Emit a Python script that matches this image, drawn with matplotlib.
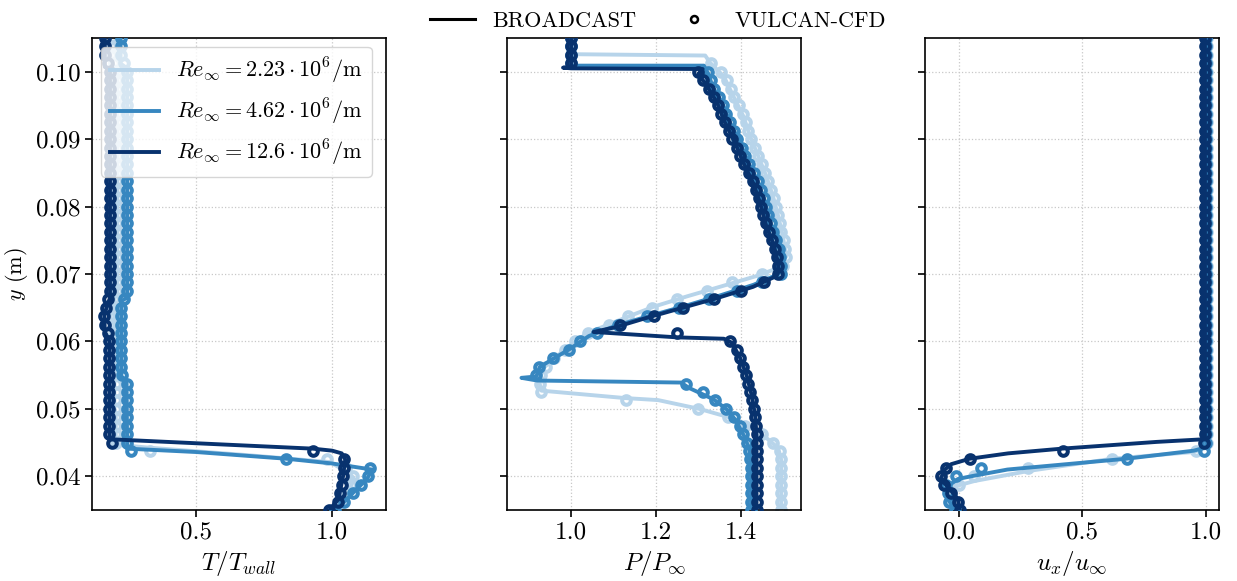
import numpy as np
import matplotlib
matplotlib.use("Agg")
import matplotlib.pyplot as plt
from matplotlib.lines import Line2D

plt.rcParams['font.family'] = 'serif'
plt.rcParams['font.serif'] = ['cmr10']
plt.rcParams['mathtext.fontset'] = 'cm'
plt.rcParams['axes.formatter.use_mathtext'] = True
plt.rcParams['font.size'] = 18

re_labels = [r"$Re_\infty = 2.23 \cdot 10^6/\mathrm{m}$",
             r"$Re_\infty = 4.62 \cdot 10^6/\mathrm{m}$",
             r"$Re_\infty = 12.6 \cdot 10^6/\mathrm{m}$"]
colors = ['#b7d4ea', '#3787c0', '#08326e']

# VULCAN-CFD sample heights (m)
y_cfd = [0.035, 0.03625, 0.0375, 0.03875, 0.040, 0.04125, 0.0425, 0.04375, 0.045, 0.04625,
         0.0475, 0.04875, 0.050, 0.05125, 0.0525, 0.05375, 0.055, 0.05625, 0.0575, 0.05875,
         0.060, 0.06125, 0.0625, 0.06375, 0.065, 0.06625, 0.0675, 0.06875, 0.070, 0.07125,
         0.0725, 0.07375, 0.075, 0.07625, 0.0775, 0.07875, 0.080, 0.08125, 0.0825, 0.08375,
         0.085, 0.08625, 0.0875, 0.08875, 0.090, 0.09125, 0.0925, 0.09375, 0.095, 0.09625,
         0.0975, 0.09875, 0.100, 0.10125, 0.1025, 0.10375, 0.105]

# ---- T / T_wall ----
T_cfd_low = [1.0, 1.03, 1.05, 1.07, 1.078, 1.05, 0.98, 0.33, 0.205, 0.205,
             0.205, 0.205, 0.205, 0.205, 0.205, 0.205, 0.2, 0.2, 0.2, 0.2,
             0.2, 0.2, 0.2, 0.2, 0.2, 0.2, 0.21, 0.21, 0.21, 0.21,
             0.21, 0.21, 0.21, 0.21, 0.21, 0.21, 0.21, 0.21, 0.21, 0.21,
             0.21, 0.21, 0.21, 0.21, 0.21, 0.21, 0.21, 0.21, 0.21, 0.21,
             0.21, 0.21, 0.21, 0.2, 0.186, 0.186, 0.186]
T_cfd_mid = [1.01, 1.045, 1.075, 1.105, 1.13, 1.14, 0.83, 0.26, 0.247, 0.247,
             0.247, 0.247, 0.247, 0.246, 0.245, 0.245, 0.228, 0.226, 0.226, 0.226,
             0.226, 0.226, 0.226, 0.226, 0.226, 0.235, 0.247, 0.247, 0.247, 0.247,
             0.247, 0.247, 0.247, 0.247, 0.247, 0.247, 0.247, 0.247, 0.247, 0.247,
             0.247, 0.247, 0.247, 0.247, 0.247, 0.247, 0.247, 0.247, 0.247, 0.247,
             0.247, 0.247, 0.247, 0.235, 0.223, 0.223, 0.223]
T_cfd_high = [0.99, 1.02, 1.03, 1.035, 1.04, 1.045, 1.045, 0.93, 0.19, 0.182,
              0.182, 0.182, 0.182, 0.182, 0.182, 0.182, 0.182, 0.182, 0.182, 0.182,
              0.182, 0.175, 0.165, 0.163, 0.168, 0.178, 0.184, 0.184, 0.184, 0.184,
              0.184, 0.184, 0.184, 0.184, 0.184, 0.184, 0.184, 0.184, 0.184, 0.184,
              0.184, 0.184, 0.184, 0.184, 0.184, 0.184, 0.184, 0.184, 0.184, 0.184,
              0.184, 0.184, 0.184, 0.175, 0.165, 0.165, 0.165]

T_line_low_x = [0.186, 0.186, 0.21, 0.21, 0.2, 0.2, 0.205, 0.205, 0.325, 0.7, 0.993, 1.06, 1.078, 1.07, 1.04, 1.0]
T_line_low_y = [0.105, 0.1012, 0.1005, 0.067, 0.0665, 0.05, 0.0495, 0.0447, 0.04425, 0.0431, 0.0421, 0.0405, 0.0398, 0.0386, 0.0366, 0.035]
T_line_mid_x = [0.223, 0.223, 0.247, 0.247, 0.226, 0.226, 0.245, 0.247, 0.5, 0.833, 1.0, 1.146, 1.128, 1.09, 1.054, 1.01]
T_line_mid_y = [0.105, 0.1012, 0.1005, 0.0665, 0.066, 0.0548, 0.0542, 0.0441, 0.0436, 0.0426, 0.0419, 0.0410, 0.0396, 0.0381, 0.0366, 0.035]
T_line_high_x = [0.165, 0.165, 0.184, 0.184, 0.163, 0.165, 0.182, 0.182, 0.5, 0.929, 1.0, 1.035, 1.048, 1.04, 1.023, 0.99]
T_line_high_y = [0.105, 0.1007, 0.1003, 0.0665, 0.064, 0.0615, 0.060, 0.0455, 0.0449, 0.0441, 0.0438, 0.0434, 0.0425, 0.040, 0.0366, 0.035]

# ---- P / P_inf ----
P_cfd_low = [1.495, 1.495, 1.495, 1.495, 1.495, 1.495, 1.495, 1.492, 1.475, 1.45,
             1.41, 1.37, 1.30, 1.13, 0.93, 0.926, 0.928, 0.94, 0.96, 0.985,
             1.01, 1.04, 1.09, 1.135, 1.19, 1.25, 1.32, 1.38, 1.45, 1.50,
             1.507, 1.504, 1.501, 1.495, 1.493, 1.488, 1.482, 1.478, 1.471, 1.465,
             1.457, 1.449, 1.441, 1.433, 1.424, 1.417, 1.412, 1.405, 1.396, 1.385,
             1.377, 1.367, 1.353, 1.33, 1.0, 1.0, 1.0]
P_cfd_mid = [1.424, 1.424, 1.424, 1.424, 1.424, 1.424, 1.422, 1.420, 1.414, 1.406,
             1.397, 1.385, 1.366, 1.34, 1.31, 1.27, 0.918, 0.925, 0.958, 0.995,
             1.02, 1.06, 1.11, 1.18, 1.255, 1.325, 1.39, 1.45, 1.494, 1.495,
             1.492, 1.489, 1.483, 1.476, 1.47, 1.465, 1.46, 1.454, 1.448, 1.441,
             1.43, 1.42, 1.411, 1.403, 1.392, 1.384, 1.375, 1.366, 1.358, 1.348,
             1.336, 1.33, 1.322, 1.0, 1.0, 1.0, 1.0]
P_cfd_high = [1.437, 1.437, 1.437, 1.437, 1.437, 1.437, 1.437, 1.437, 1.437, 1.437,
              1.436, 1.434, 1.431, 1.427, 1.422, 1.417, 1.413, 1.406, 1.399, 1.39,
              1.375, 1.25, 1.115, 1.195, 1.263, 1.337, 1.40, 1.455, 1.488, 1.488,
              1.485, 1.481, 1.474, 1.466, 1.459, 1.453, 1.448, 1.442, 1.436, 1.429,
              1.419, 1.408, 1.399, 1.391, 1.379, 1.371, 1.363, 1.354, 1.346, 1.337,
              1.325, 1.31, 1.30, 1.0, 1.0, 1.0, 1.0]

P_line_low_x = [1.0, 1.0, 1.316, 1.328, 1.36, 1.383, 1.406, 1.422, 1.441, 1.46, 1.476, 1.488, 1.499, 1.507,
                1.488, 1.437, 1.356, 1.274, 1.197, 1.135, 1.08, 1.04, 0.995, 0.957, 0.93, 0.926, 0.93,
                1.127, 1.205, 1.302, 1.375, 1.422, 1.46, 1.488, 1.495, 1.495]
P_line_low_y = [0.105, 0.1026, 0.1024, 0.1013, 0.0993, 0.0963, 0.0934, 0.0904, 0.0875, 0.0845, 0.0815, 0.0786, 0.0756, 0.0726,
                0.0709, 0.0697, 0.0682, 0.0667, 0.0652, 0.0637, 0.0623, 0.0613, 0.0593, 0.0573, 0.0558, 0.0537, 0.0527,
                0.0516, 0.0513, 0.05, 0.0487, 0.0472, 0.0457, 0.0442, 0.0425, 0.035]
P_line_mid_x = [1.0, 1.0, 0.995, 1.313, 1.325, 1.333, 1.356, 1.375, 1.398, 1.418, 1.441, 1.457, 1.472, 1.488, 1.497,
                1.494, 1.486, 1.43, 1.35, 1.265, 1.18, 1.104, 1.042, 0.995, 0.957, 0.926, 0.918, 0.883, 0.92,
                1.259, 1.278, 1.336, 1.367, 1.387, 1.41, 1.42, 1.424, 1.424]
P_line_mid_y = [0.105, 0.1012, 0.1009, 0.1009, 0.0995, 0.0978, 0.0954, 0.0924, 0.0895, 0.0865, 0.0835, 0.0806, 0.0771, 0.0746, 0.0717,
                0.0703, 0.0699, 0.0684, 0.0668, 0.0652, 0.0637, 0.0623, 0.0608, 0.0588, 0.0574, 0.0562, 0.0548, 0.0546, 0.0542,
                0.0539, 0.0531, 0.0514, 0.0499, 0.0484, 0.0457, 0.044, 0.040, 0.035]
P_line_high_x = [1.0, 1.0, 0.981, 1.0, 1.31, 1.30, 1.321, 1.344, 1.363, 1.386, 1.406, 1.429, 1.445, 1.46, 1.476, 1.488,
                 1.488, 1.484, 1.429, 1.348, 1.263, 1.178, 1.104, 1.053, 1.251, 1.36, 1.379, 1.398, 1.414, 1.426,
                 1.434, 1.437, 1.437]
P_line_high_y = [0.105, 0.1007, 0.1006, 0.1005, 0.1004, 0.0997, 0.0978, 0.0954, 0.0924, 0.0895, 0.0865, 0.0835, 0.0806, 0.0771, 0.0746, 0.0717,
                 0.0702, 0.0697, 0.0681, 0.0665, 0.065, 0.0635, 0.0621, 0.0614, 0.0606, 0.0604, 0.0598, 0.0576, 0.0549, 0.0519,
                 0.0489, 0.046, 0.035]

# ---- u_x / u_inf ----
u_cfd_low = [-0.01, -0.035, -0.03, 0.0, 0.06, 0.28, 0.62, 0.96, 1.005, 1.005,
             1.005, 1.005, 1.005, 1.005, 1.005, 1.005, 1.005, 1.005, 1.005, 1.005,
             1.005, 1.005, 1.005, 1.005, 1.005, 1.005, 1.005, 1.005, 1.005, 1.005,
             1.005, 1.005, 1.005, 1.005, 1.005, 1.005, 1.005, 1.005, 1.005, 1.005,
             1.005, 1.005, 1.005, 1.005, 1.005, 1.005, 1.005, 1.005, 1.005, 1.005,
             1.005, 1.005, 1.005, 1.005, 1.005, 1.005, 1.005]
u_cfd_mid = [-0.016, -0.04, -0.045, -0.05, -0.01, 0.09, 0.68, 0.99, 1.0, 1.0,
             1.0, 1.0, 1.0, 1.0, 1.0, 1.0, 1.0, 1.0, 1.0, 1.0,
             1.0, 1.0, 1.0, 1.0, 1.0, 1.0, 1.0, 1.0, 1.0, 1.0,
             1.0, 1.0, 1.0, 1.0, 1.0, 1.0, 1.0, 1.0, 1.0, 1.0,
             1.0, 1.0, 1.0, 1.0, 1.0, 1.0, 1.0, 1.0, 1.0, 1.0,
             1.0, 1.0, 1.0, 1.0, 1.0, 1.0, 1.0]
u_cfd_high = [0.005, -0.003, -0.03, -0.06, -0.072, -0.05, 0.044, 0.42, 0.99, 0.995,
              0.995, 0.995, 0.995, 0.995, 0.995, 0.995, 0.995, 0.995, 0.995, 0.995,
              0.995, 0.995, 0.995, 0.995, 0.995, 0.995, 0.995, 0.995, 0.995, 0.995,
              0.995, 0.995, 0.995, 0.995, 0.995, 0.995, 0.995, 0.995, 0.995, 0.995,
              0.995, 0.995, 0.995, 0.995, 0.995, 0.995, 0.995, 0.995, 0.995, 0.995,
              0.995, 0.995, 0.995, 0.995, 0.995, 0.995, 0.995]

u_line_low_x = [1.005, 1.005, 0.95, 0.62, 0.284, 0.064, -0.016, -0.03, -0.01]
u_line_low_y = [0.105, 0.0443, 0.0436, 0.0426, 0.0408, 0.0393, 0.0385, 0.037, 0.035]
u_line_mid_x = [1.0, 1.0, 0.95, 0.677, 0.197, 0.05, -0.003, -0.049, -0.043, -0.016]
u_line_mid_y = [0.105, 0.0443, 0.0438, 0.0426, 0.041, 0.040, 0.0396, 0.0384, 0.0366, 0.035]
u_line_high_x = [0.995, 0.995, 0.8, 0.417, 0.2, 0.044, -0.03, -0.056, -0.073, -0.036, -0.003, 0.004]
u_line_high_y = [0.105, 0.0455, 0.0451, 0.0441, 0.0434, 0.0426, 0.0418, 0.041, 0.0396, 0.0381, 0.0366, 0.035]

panels = [
    ([T_line_low_x, T_line_mid_x, T_line_high_x], [T_line_low_y, T_line_mid_y, T_line_high_y],
     [T_cfd_low, T_cfd_mid, T_cfd_high], r"$T/T_{wall}$", (0.118, 1.198), [0.5, 1.0]),
    ([P_line_low_x, P_line_mid_x, P_line_high_x], [P_line_low_y, P_line_mid_y, P_line_high_y],
     [P_cfd_low, P_cfd_mid, P_cfd_high], r"$P/P_\infty$", (0.849, 1.542), [1.0, 1.2, 1.4]),
    ([u_line_low_x, u_line_mid_x, u_line_high_x], [u_line_low_y, u_line_mid_y, u_line_high_y],
     [u_cfd_low, u_cfd_mid, u_cfd_high], r"$u_x/u_\infty$", (-0.136, 1.052), [0.0, 0.5, 1.0]),
]

fig = plt.figure(figsize=(12.37, 5.81), dpi=100)
lefts = [0.0744, 0.4099, 0.7478]
axes = []
for k, left in enumerate(lefts):
    ax = fig.add_axes([left, 0.1222, 0.2377, 0.8124], sharey=axes[0] if axes else None)
    axes.append(ax)

for ax, (lx, ly, cfd, xlabel, xlim, xticks) in zip(axes, panels):
    for i in range(3):
        ax.plot(lx[i], ly[i], color=colors[i], lw=2.8, label=re_labels[i], zorder=2 + i)
        ax.plot(cfd[i], y_cfd, ls='none', marker='o', ms=6.2, mfc='none', mec=colors[i],
                mew=2.9, zorder=2 + i)
    ax.set_xlim(*xlim)
    ax.set_xticks(xticks)
    ax.set_xticklabels([f"{t:.1f}" for t in xticks])
    ax.set_xlabel(xlabel)
    ax.grid(True, ls=':', color='#c8c8c8', lw=0.9)
    ax.set_axisbelow(True)
    for s in ax.spines.values():
        s.set_linewidth(1.2)
    ax.tick_params(direction='out', length=5, width=1.2)

axes[0].set_ylim(0.035, 0.105)
axes[0].set_yticks([0.04, 0.05, 0.06, 0.07, 0.08, 0.09, 0.10])
axes[0].set_yticklabels([f"{t:.2f}" for t in [0.04, 0.05, 0.06, 0.07, 0.08, 0.09, 0.10]])
axes[0].set_ylabel(r"$y$ (m)", fontsize=16)
for ax in axes[1:]:
    ax.tick_params(labelleft=False)

axes[0].legend(loc='upper left', fontsize=16, handlelength=2.2, borderaxespad=0.4)

handles = [Line2D([], [], color='black', lw=2.2),
           Line2D([], [], ls='none', marker='o', ms=5, mfc='none', mec='black', mew=1.8)]
fig.legend(handles, ['BROADCAST', 'VULCAN-CFD'], loc='upper center', ncol=2, frameon=False,
           bbox_to_anchor=(0.532, 1.015), fontsize=16, columnspacing=1.6)

fig.savefig("out.png", dpi=100)
